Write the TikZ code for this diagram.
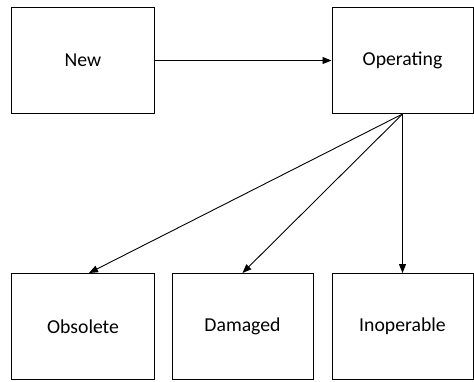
\documentclass[tikz,border=0pt]{standalone}
\usepackage{fontspec}
\setmainfont{Carlito}
\usetikzlibrary{arrows.meta}
\begin{document}
\begin{tikzpicture}[x=1bp,y=-1bp,
  state/.style={draw,line width=1bp,minimum width=#1,minimum height=106bp,
    inner sep=0pt,font=\fontsize{19.8}{22}\selectfont},
  state/.default=141bp,
  flow/.style={line width=0.9bp,-{Triangle[length=9bp,width=7bp]}}]
\useasboundingbox (0,0) rectangle (474,381);
% top row
\node[state=142bp] (new) at (83,60.5) {New};
\node[state] (op) at (402.5,60.5) {Operating};
% bottom row
\node[state=142bp] (obs) at (83,326.5) {Obsolete};
\node[state] (dam) at (242.5,326.5) {Damaged};
\node[state] (inop) at (402.5,326.5) {Inoperable};
% transitions
\draw[flow] (new) -- (op);
\draw[flow] (op.south) -- ([xshift=6bp]obs.north);
\draw[flow] (op.south) -- (dam.north);
\draw[flow] (op.south) -- (inop.north);
\end{tikzpicture}
\end{document}
